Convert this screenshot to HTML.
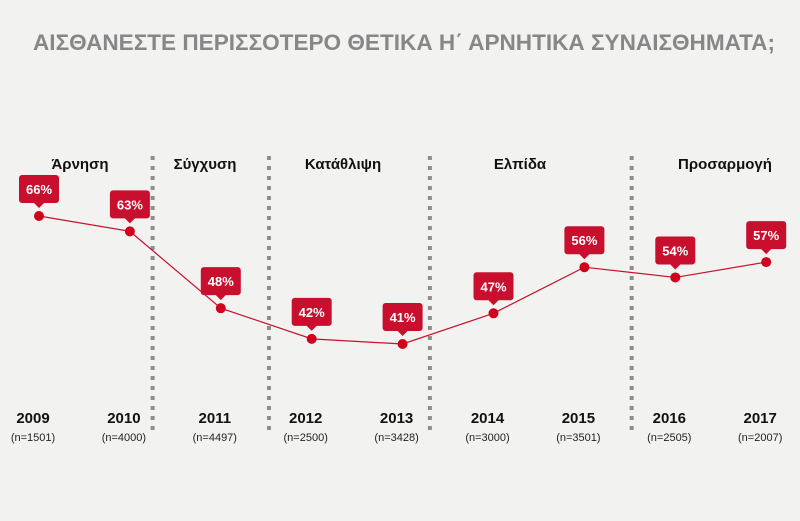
<!DOCTYPE html>
<html><head><meta charset="utf-8">
<style>
body{margin:0;width:800px;height:521px;background:#f2f2f1;overflow:hidden;font-family:"Liberation Sans","DejaVu Sans",sans-serif}
svg{display:block}
</style></head>
<body>
<svg id="chart" width="800" height="521" xmlns="http://www.w3.org/2000/svg">
<rect width="800" height="521" fill="#f2f2f1"/>
<text x="33" y="50" textLength="742" lengthAdjust="spacingAndGlyphs" font-size="22" font-weight="bold" fill="#878787">ΑΙΣΘΑΝΕΣΤΕ ΠΕΡΙΣΣΟΤΕΡΟ ΘΕΤΙΚΑ Η΄ ΑΡΝΗΤΙΚΑ ΣΥΝΑΙΣΘΗΜΑΤΑ;</text>
<g id="g"></g>
</svg>
<script>
const years=["2009","2010","2011","2012","2013","2014","2015","2016","2017"];
const samples=["(n=1501)","(n=4000)","(n=4497)","(n=2500)","(n=3428)","(n=3000)","(n=3501)","(n=2505)","(n=2007)"];
const values=[66,63,48,42,41,47,56,54,57];
const stages=["Άρνηση","Σύγχυση","Κατάθλιψη","Ελπίδα","Προσαρμογή"];
const stageX=[80,205,343,520,725];
const separatorsAfter=[1.25,2.53,4.3,6.52];
const NS="http://www.w3.org/2000/svg";
const g=document.getElementById('g');
function xS(i){return 39+i*90.9;}
function yS(v){return 216+(66-v)*5.12;}
function mk(t,a,p){const e=document.createElementNS(NS,t);for(const k in a)e.setAttribute(k,a[k]);(p||g).appendChild(e);return e;}
separatorsAfter.forEach(s=>{
  const l=mk('line',{x1:xS(s),x2:xS(s),y1:156,y2:430,stroke:'#8e8e8e','stroke-width':4,'stroke-dasharray':'4 6'});
  
  
});
stages.forEach((s,i)=>{
  const t=mk('text',{x:stageX[i],y:169,'text-anchor':'middle','font-size':15,'font-weight':'bold',fill:'#111'});
  t.textContent=s;
  
  
});
const pts=values.map((v,i)=>xS(i)+','+yS(v)).join(' ');
const pl=mk('polyline',{points:pts,fill:'none',stroke:'#c8102e','stroke-width':1.2});


values.forEach((v,i)=>{
  const x=xS(i),y=yS(v);
  const c=mk('circle',{cx:x,cy:y,r:5,fill:'#d0021b'});
  
  
  const b=mk('path',{d:`M${x-17},${y-41} h34 a3,3 0 0 1 3,3 v22 a3,3 0 0 1 -3,3 h-12 l-5,5 l-5,-5 h-12 a3,3 0 0 1 -3,-3 v-22 a3,3 0 0 1 3,-3 z`,fill:'#c8102e'});
  
  
  const t=mk('text',{x:x,y:y-22,'text-anchor':'middle','font-size':13,'font-weight':'bold',fill:'#fff'});
  t.textContent=v+'%';
  
  
  const yt=mk('text',{x:x-6,y:423,'text-anchor':'middle','font-size':15,'font-weight':'bold',fill:'#111'});
  yt.textContent=years[i];
  
  
  const nt=mk('text',{x:x-6,y:441,'text-anchor':'middle','font-size':11,fill:'#222'});
  nt.textContent=samples[i];
  
  
});
</script>
</body></html>
